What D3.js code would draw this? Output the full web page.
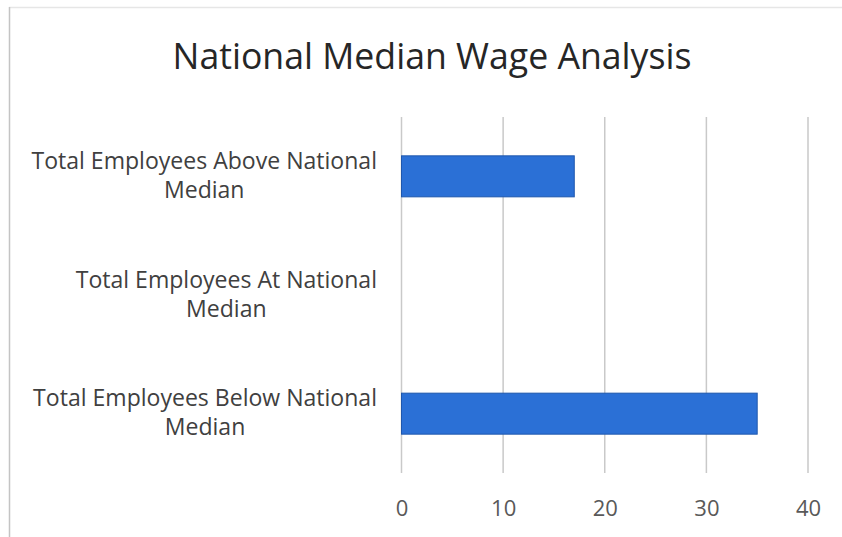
<!DOCTYPE html>
<html>
<head>
<meta charset="utf-8">
<script src="https://cdn.jsdelivr.net/npm/d3@7"></script>
<style>
  html, body { margin: 0; padding: 0; background: #ffffff; }
  svg { display: block; }
</style>
</head>
<body>
<svg id="chart" width="842" height="537"></svg>
<script>
// Chart data
const categories = [
  "Total Employees Above National Median",
  "Total Employees At National Median",
  "Total Employees Below National Median"
];
const employeeCounts = [17, 0, 35];
const tickValues = [0, 10, 20, 30, 40];
const chartTitle = "National Median Wage Analysis";

const W = 842, H = 537;
const FONT = "'Open Sans', Lato, sans-serif";
const plot = { left: 401.5, right: 808, top: 117, bottom: 473 };

const svg = d3.select("#chart");

// Sizes a font so the given string spans the wanted width
function fitSize(str, wantWidth) {
  const probe = svg.append("text").attr("font-family", FONT).attr("font-size", 100).text(str);
  const w = probe.node().getComputedTextLength();
  probe.remove();
  return 100 * wantWidth / w;
}

// Chart frame
svg.append("line")
  .attr("x1", 9).attr("x2", W).attr("y1", 7.5).attr("y2", 7.5)
  .attr("stroke", "#e6e6e6").attr("stroke-width", 1.5);
svg.append("line")
  .attr("x1", 9.5).attr("x2", 9.5).attr("y1", 7).attr("y2", H)
  .attr("stroke", "#c4c4c4").attr("stroke-width", 1.5);

const x = d3.scaleLinear().domain([0, 40]).range([plot.left, plot.right]);
const y = d3.scaleBand()
  .domain(categories)
  .range([plot.top, plot.bottom])
  .paddingInner(0.6545)
  .paddingOuter(0.6545 / 2);

// Title
svg.append("text")
  .attr("x", 432).attr("y", 69)
  .attr("text-anchor", "middle")
  .attr("font-family", FONT)
  .attr("font-size", fitSize(chartTitle, 519))
  .attr("fill", "#262626")
  .text(chartTitle);

// Vertical gridlines
svg.append("g")
  .selectAll("line")
  .data(tickValues)
  .join("line")
  .attr("x1", d => x(d)).attr("x2", d => x(d))
  .attr("y1", plot.top).attr("y2", plot.bottom)
  .attr("stroke", "#c9c9c9").attr("stroke-width", 1.5);

// Bars
svg.append("g")
  .selectAll("rect")
  .data(categories.map((c, i) => ({ c, v: employeeCounts[i] })).filter(d => d.v > 0))
  .join("rect")
  .attr("x", x(0))
  .attr("y", d => y(d.c))
  .attr("width", d => x(d.v) - x(0))
  .attr("height", y.bandwidth())
  .attr("fill", "#2b70d6")
  .attr("stroke", "#1f57ad")
  .attr("stroke-width", 1);

// X axis tick labels
const xAxis = d3.axisBottom(x).tickValues(tickValues).tickSize(0).tickPadding(0);
const xg = svg.append("g").attr("transform", `translate(0, ${plot.bottom})`).call(xAxis);
xg.select(".domain").remove();
xg.selectAll("text")
  .attr("dy", null)
  .attr("y", 43)
  .attr("font-family", FONT)
  .attr("font-size", 22)
  .attr("fill", "#595959");

// Category labels, wrapped onto two centred lines, block right-aligned to the axis
const labelRight = 377;
const lineGap = 29;
const labelSize = fitSize("Total Employees Below National", 344);
const yAxis = d3.axisLeft(y).tickSize(0).tickFormat("");
const yg = svg.append("g").attr("transform", `translate(${plot.left}, 0)`).call(yAxis);
yg.select(".domain").remove();

categories.forEach(c => {
  const words = c.split(" ");
  const lines = [words.slice(0, -1).join(" "), words[words.length - 1]];
  const t = svg.append("text")
    .attr("font-family", FONT)
    .attr("font-size", labelSize)
    .attr("fill", "#404040")
    .attr("text-anchor", "middle");
  const spans = lines.map(ln => t.append("tspan").text(ln));
  const maxW = d3.max(spans, s => s.node().getComputedTextLength());
  const cx = labelRight - maxW / 2;
  const cy = y(c) + y.bandwidth() / 2;
  spans.forEach((s, i) => {
    s.attr("x", cx).attr("y", cy + (i - (lines.length - 1) / 2) * lineGap + 7);
  });
});
</script>
</body>
</html>
